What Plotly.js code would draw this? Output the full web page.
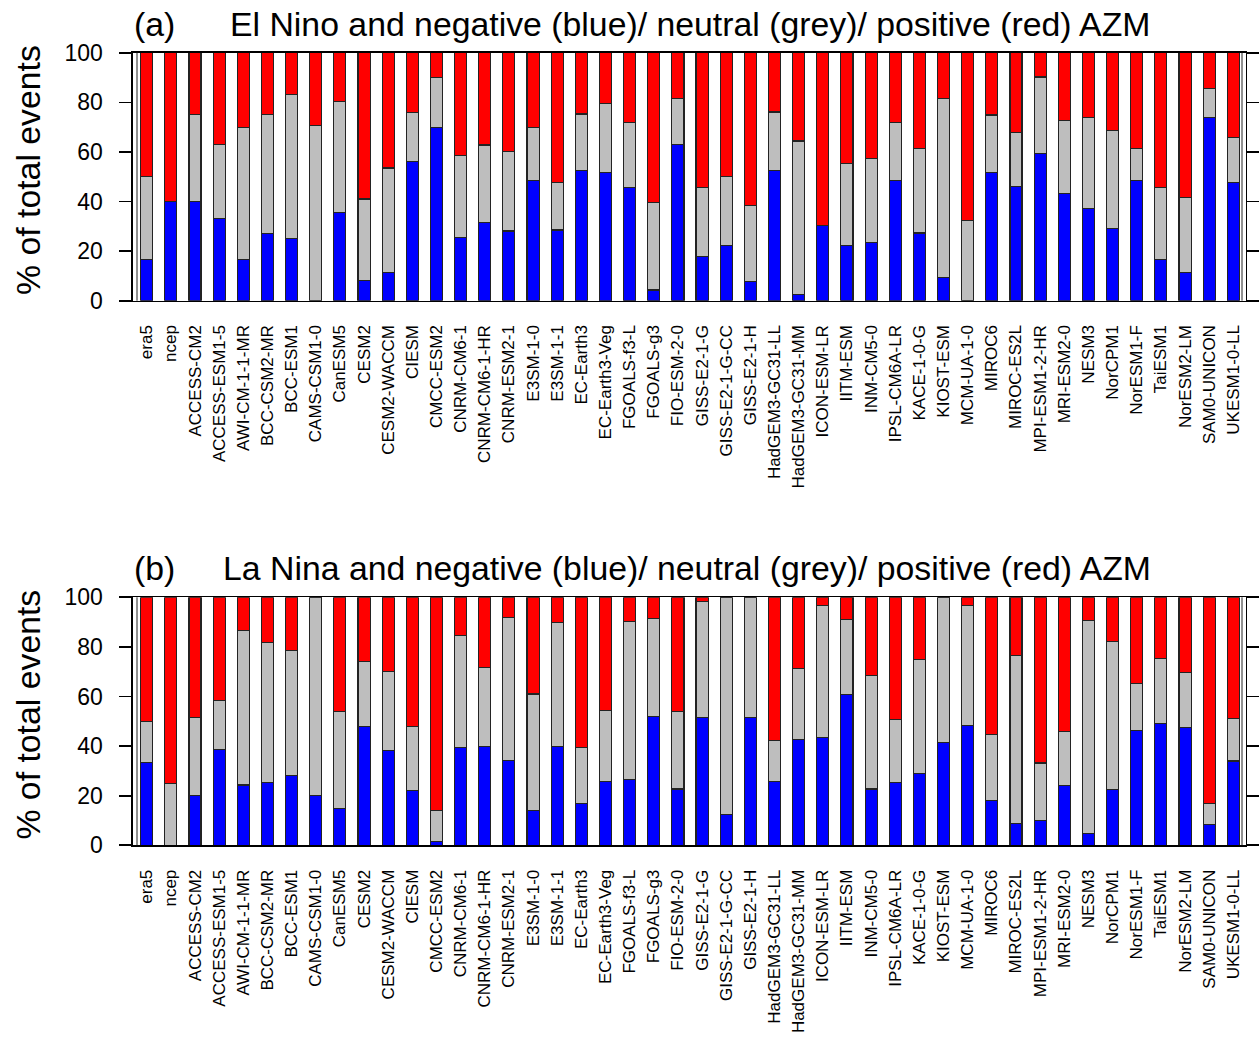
<!DOCTYPE html>
<html>
<head>
<meta charset="utf-8">
<script src="https://cdn.plot.ly/plotly-3.0.1.min.js"></script>
<style>html,body{margin:0;padding:0;background:#fff;}#chart{width:1259px;height:1051px;}</style>
</head>
<body>
<div id="chart"></div>
<script>
var models = ["era5","ncep","ACCESS-CM2","ACCESS-ESM1-5","AWI-CM-1-1-MR","BCC-CSM2-MR","BCC-ESM1","CAMS-CSM1-0","CanESM5","CESM2","CESM2-WACCM","CIESM","CMCC-ESM2","CNRM-CM6-1","CNRM-CM6-1-HR","CNRM-ESM2-1","E3SM-1-0","E3SM-1-1","EC-Earth3","EC-Earth3-Veg","FGOALS-f3-L","FGOALS-g3","FIO-ESM-2-0","GISS-E2-1-G","GISS-E2-1-G-CC","GISS-E2-1-H","HadGEM3-GC31-LL","HadGEM3-GC31-MM","ICON-ESM-LR","IITM-ESM","INM-CM5-0","IPSL-CM6A-LR","KACE-1-0-G","KIOST-ESM","MCM-UA-1-0","MIROC6","MIROC-ES2L","MPI-ESM1-2-HR","MRI-ESM2-0","NESM3","NorCPM1","NorESM1-F","TaiESM1","NorESM2-LM","SAM0-UNICON","UKESM1-0-LL"];

// (a) El Nino
var elninoNegative = [16.7,40,40,33.3,16.7,27,25,0,35.5,8.3,11.2,56.3,70,25.5,31.5,28.1,48.3,28.5,52.6,51.6,45.6,4.3,63,17.7,22.3,7.8,52.4,2.4,30.4,22.3,23.3,48.3,27.3,9.3,0,51.6,46,59.5,43.3,37,29.2,48.3,16.5,11.3,73.8,47.6];
var elninoNeutral  = [33.3,0,35,29.7,53.3,48,58.3,70.7,44.9,32.7,42.3,19.7,20,33.1,31.3,31.9,21.7,19.1,22.7,28,26.2,35.4,18.5,28.1,27.7,30.6,23.7,62,0,33.1,34.1,23.5,34,72.4,32.4,23.3,21.9,30.7,29.4,36.7,39.3,12.9,29.3,30.2,11.8,18.1];
var elninoPositive = [50,60,25,37,30,25,16.7,29.3,19.6,59,46.5,24,10,41.4,37.2,40,30,52.4,24.7,20.4,28.2,60.3,18.5,54.2,50,61.6,23.9,35.6,69.6,44.6,42.6,28.2,38.7,18.3,67.6,25.1,32.1,9.8,27.3,26.3,31.5,38.8,54.2,58.5,14.4,34.3];

// (b) La Nina
var laninaNegative = [33.3,0,20,38.6,24.3,25.5,28.3,20,14.7,47.9,38.2,22.1,1.5,39.5,39.9,34.1,14,39.8,17,25.6,26.6,52,22.7,51.6,12.3,51.6,25.9,42.6,43.6,60.9,22.7,25.2,29,41.6,48.4,18.2,8.8,10.1,24,4.6,22.5,46.2,49.1,47.5,8.4,34];
var laninaNeutral  = [16.7,25,31.7,19.7,62.2,56.4,50.1,80,39.3,26.3,31.8,25.8,12.4,45.2,31.9,57.9,47,50.1,22.4,28.7,63.7,39.6,31.3,46.6,87.7,48.4,16.5,28.8,53.2,30.2,45.6,25.4,45.9,58.4,48.4,26.6,67.6,23.1,22,86,59.8,19,26.3,22.3,8.3,17.3];
var laninaPositive = [50,75,48.3,41.7,13.5,18.1,21.6,0,46,25.8,30,52.1,86.1,15.3,28.2,8,39,10.1,60.6,45.7,9.7,8.4,46,1.8,0,0,57.6,28.6,3.2,8.9,31.7,49.4,25.1,0,3.2,55.2,23.6,66.8,54,9.4,17.7,34.8,24.6,30.2,83.3,48.7];

var yTickVals = [0,20,40,60,80,100];
var yTickText = ["0","20","40","60","80","100"];

var W = 1259, H = 1051;
var FONT = "Liberation Sans, Arial, Helvetica, sans-serif";
var edge = 'rgb(35,35,35)';

function mk(y, color, ax, name){
  return {type:'bar', x:models, y:y, xaxis:ax[0], yaxis:ax[1], name:name,
    marker:{color:color, line:{color:edge, width:1.1}}, showlegend:false, hoverinfo:'x+y'};
}
var data = [
  mk(elninoNegative,'#0000ff',['x','y'],'negative'),
  mk(elninoNeutral,'#bebebe',['x','y'],'neutral'),
  mk(elninoPositive,'#ff0000',['x','y'],'positive'),
  mk(laninaNegative,'#0000ff',['x2','y2'],'negative'),
  mk(laninaNeutral,'#bebebe',['x2','y2'],'neutral'),
  mk(laninaPositive,'#ff0000',['x2','y2'],'positive')
];

var xl = 133/W, xr = 1245.5/W;
function px(y){ return 1 - y/H; }
var aTop = 52.7, aBot = 300.7, off = 544.6;

function xax(anchor){
  return {domain:[xl,xr], anchor:anchor, type:'category', range:[-0.567,45.505],
    showline:true, mirror:true, linecolor:'#000', linewidth:1.6, ticks:'', tickangle:-90,
    tickfont:{family:FONT, size:17, color:'#000'}, showgrid:false, zeroline:false, ticklabelstandoff:16};
}
function yax(anchor, d){
  return {domain:d, anchor:anchor, range:[0,100], tickvals:yTickVals, ticktext:yTickText,
    ticks:'outside', ticklen:12, tickwidth:1.6, tickcolor:'#000', showline:true, mirror:'ticks',
    linecolor:'#000', linewidth:1.6, showgrid:false, zeroline:false,
    tickfont:{family:FONT, size:23, color:'#000'}, ticklabelstandoff:12};
}

var titleA = "El Nino and negative (blue)/ neutral (grey)/ positive (red) AZM";
var titleB = "La Nina and negative (blue)/ neutral (grey)/ positive (red) AZM";
function ann(text, x, y, opts){
  var a = {text:text, xref:'paper', yref:'paper', x:x/W, y:px(y), showarrow:false,
    xanchor:'left', yanchor:'middle', font:{family:FONT, size:33.8, color:'#000'}};
  for (var k in opts) a[k]=opts[k];
  return a;
}

var layout = {
  width:W, height:H, margin:{l:0,r:0,t:0,b:0},
  paper_bgcolor:'#fff', plot_bgcolor:'#fff',
  barmode:'stack', bargap:0.5,
  xaxis: xax('y'),
  yaxis: yax('x',[px(aBot), px(aTop)]),
  xaxis2: xax('y2'),
  yaxis2: yax('x2',[px(aBot+off), px(aTop+off)]),
  annotations:[
    ann("(a)", 132, 24),
    ann(titleA, 228, 24),
    ann("(b)", 132, 568),
    ann(titleB, 221, 568),
    ann("% of total events", 28, 170, {textangle:-90, xanchor:'center', yanchor:'middle'}),
    ann("% of total events", 28, 170+off, {textangle:-90, xanchor:'center', yanchor:'middle'})
  ],
  shapes:[
    {type:'line', xref:'paper', yref:'paper', x0:137/W, x1:137/W, y0:px(aBot), y1:px(aTop), line:{color:'#222', width:1}},
    {type:'line', xref:'paper', yref:'paper', x0:137/W, x1:137/W, y0:px(aBot+off), y1:px(aTop+off), line:{color:'#222', width:1}},
    {type:'line', xref:'paper', yref:'paper', x0:1242/W, x1:1242/W, y0:px(aBot), y1:px(aTop), line:{color:'#222', width:1}},
    {type:'line', xref:'paper', yref:'paper', x0:1242/W, x1:1242/W, y0:px(aBot+off), y1:px(aTop+off), line:{color:'#222', width:1}}
  ]
};

Plotly.newPlot('chart', data, layout, {displayModeBar:false, staticPlot:true});
</script>
</body>
</html>
